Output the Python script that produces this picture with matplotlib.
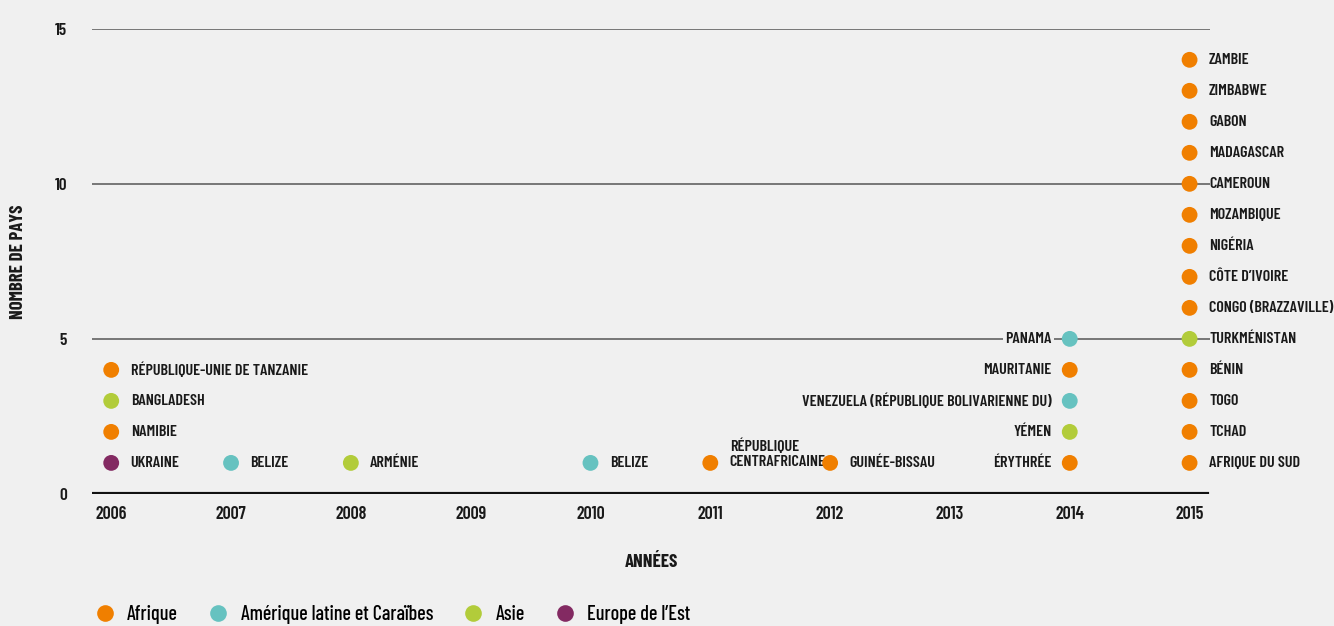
import matplotlib
matplotlib.use("Agg")
import matplotlib.pyplot as plt
from matplotlib.lines import Line2D

# données : un point par pays, empilés par année
years = [2006, 2006, 2006, 2006,
         2007, 2008, 2010, 2011, 2012,
         2014, 2014, 2014, 2014, 2014,
         2015, 2015, 2015, 2015, 2015, 2015, 2015,
         2015, 2015, 2015, 2015, 2015, 2015, 2015]
counts = [1, 2, 3, 4,
          1, 1, 1, 1, 1,
          1, 2, 3, 4, 5,
          1, 2, 3, 4, 5, 6, 7, 8, 9, 10, 11, 12, 13, 14]
countries = ["UKRAINE", "NAMIBIE", "BANGLADESH", "RÉPUBLIQUE-UNIE DE TANZANIE",
             "BELIZE", "ARMÉNIE", "BELIZE", "RÉPUBLIQUE\nCENTRAFRICAINE", "GUINÉE-BISSAU",
             "ÉRYTHRÉE", "YÉMEN", "VENEZUELA (RÉPUBLIQUE BOLIVARIENNE DU)", "MAURITANIE", "PANAMA",
             "AFRIQUE DU SUD", "TCHAD", "TOGO", "BÉNIN", "TURKMÉNISTAN",
             "CONGO (BRAZZAVILLE)", "CÔTE D\u2019IVOIRE", "NIGÉRIA", "MOZAMBIQUE",
             "CAMEROUN", "MADAGASCAR", "GABON", "ZIMBABWE", "ZAMBIE"]
regions = ["Europe de l\u2019Est", "Afrique", "Asie", "Afrique",
           "Amérique latine et Caraïbes", "Asie", "Amérique latine et Caraïbes", "Afrique", "Afrique",
           "Afrique", "Asie", "Amérique latine et Caraïbes", "Afrique", "Amérique latine et Caraïbes",
           "Afrique", "Afrique", "Afrique", "Afrique", "Asie",
           "Afrique", "Afrique", "Afrique", "Afrique",
           "Afrique", "Afrique", "Afrique", "Afrique", "Afrique"]

region_names = ["Afrique", "Amérique latine et Caraïbes", "Asie", "Europe de l\u2019Est"]
region_colors = ["#f07f00", "#66c2c0", "#b2cc3a", "#832a62"]
color_map = dict(zip(region_names, region_colors))

year_ticks = list(range(2006, 2016))
y_ticks = [0, 5, 10, 15]

bg = "#f0f0f0"
ink = "#1a1a1a"
plt.rcParams['font.family'] = ['Barlow Condensed', 'DejaVu Sans']

fig = plt.figure(figsize=(13.34, 6.26), dpi=100, facecolor=bg)
ax = fig.add_axes([0.069, 0.211, 0.838, 0.743])
ax.set_facecolor(bg)

for y in y_ticks[1:]:
    ax.axhline(y, color="#555555", lw=1.1, zorder=1)
ax.axhline(0, color="#111111", lw=3, zorder=1, xmax=0.997)

ax.scatter(years, counts, s=130, c=[color_map[r] for r in regions],
           edgecolors="none", zorder=3)

lab = dict(fontsize=11.6, fontweight="semibold", color=ink)
for x, y, name in zip(years, counts, countries):
    if x == 2014:
        ax.annotate(name, (x, y), xytext=(-13, 0), textcoords="offset points",
                    ha="right", va="center", zorder=2,
                    bbox=dict(boxstyle="square,pad=0.15", fc=bg, ec="none"), **lab)
    elif "\n" in name:
        ax.annotate(name, (x, y), xytext=(14, 6.5), textcoords="offset points",
                    ha="left", va="center", linespacing=1.05, zorder=2, **lab)
    else:
        ax.annotate(name, (x, y), xytext=(14, 0), textcoords="offset points",
                    ha="left", va="center", zorder=2, **lab)

ax.set_xlim(2005.84, 2015.17)
ax.set_ylim(0, 15)
ax.set_xticks(year_ticks)
ax.set_xticklabels([str(y) for y in year_ticks], fontsize=13, fontweight="semibold", color=ink)
ax.set_yticks(y_ticks)
ax.set_yticklabels([str(y) for y in y_ticks], fontsize=12.5, fontweight="semibold", color=ink)
ax.tick_params(axis="both", length=0)
ax.tick_params(axis="x", pad=9)
ax.tick_params(axis="y", pad=18)
for s in ax.spines.values():
    s.set_visible(False)

ax.set_xlabel("ANNÉES", fontsize=13.5, fontweight="bold", labelpad=22, color=ink)
ax.set_ylabel("NOMBRE DE PAYS", fontsize=13.5, fontweight="bold", color=ink)
ax.yaxis.set_label_coords(-0.058, 0.5)

handles = [Line2D([], [], marker="o", ls="none", markersize=12, markeredgewidth=0,
                  color=c, label=n) for n, c in zip(region_names, region_colors)]
fig.legend(handles=handles, loc="center left", bbox_to_anchor=(0.0712, 0.019), ncol=4,
           frameon=False, handletextpad=0.6, columnspacing=1.5,
           handlelength=1.0, borderaxespad=0, borderpad=0,
           prop=dict(family=['Barlow Condensed', 'DejaVu Sans'], size=14.5, weight="medium"))

fig.savefig("out.png", dpi=100, facecolor=bg)
